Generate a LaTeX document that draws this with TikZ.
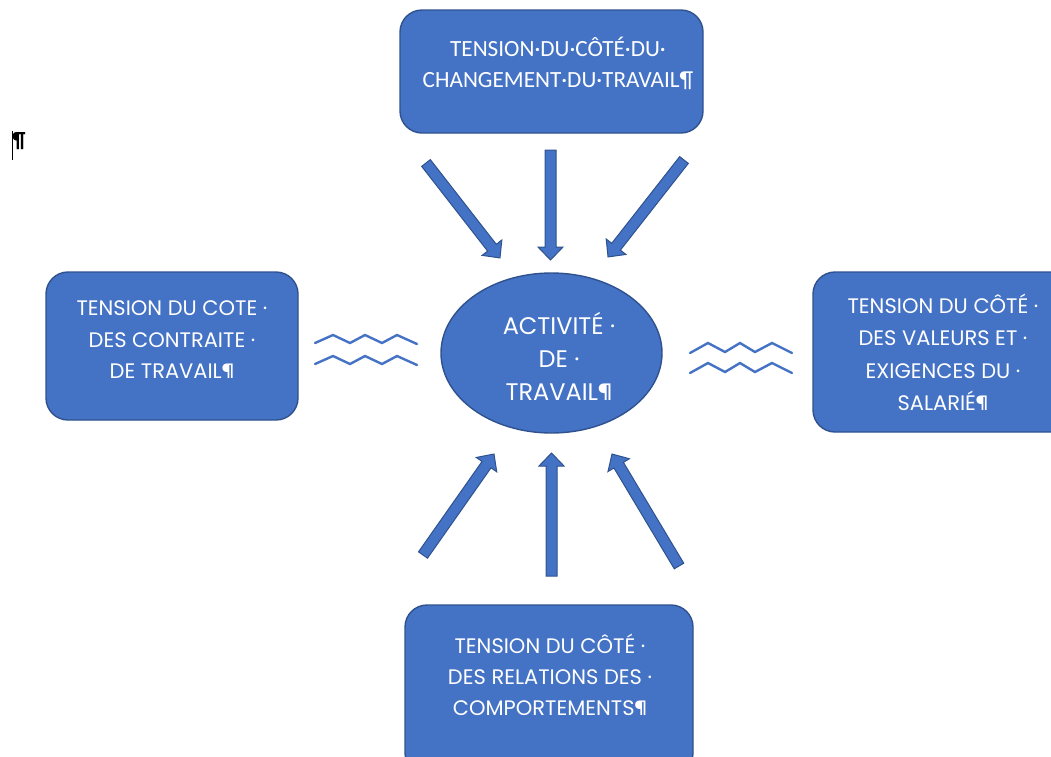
\documentclass[tikz,border=0pt]{standalone}
\usepackage{fontspec}
\setmainfont{Poppins}
\newfontfamily\calib{Carlito}
\definecolor{accent}{HTML}{4472C4}
\definecolor{accentdark}{HTML}{2F528F}
\tikzset{
  box/.style={draw=accentdark, fill=accent, line width=1.4pt, rounded corners=22pt, inner sep=0pt},
  oval/.style={ellipse, draw=accentdark, fill=accent, line width=1.4pt, inner sep=0pt},
  txt/.style={text=white, align=center, inner sep=0pt},
  blk/.style={draw=accentdark, fill=accent, line width=1pt, line join=miter},
  wave/.style={draw=accent, line width=2.4pt, line join=miter, line cap=round}
}
\usetikzlibrary{shapes.geometric}
\newcommand\blockarrow[4]{%
  \pgfmathsetmacro\barang{atan2(-(#4)+(#2),(#3)-(#1))}%
  \pgfmathsetmacro\barlen{veclen((#3)-(#1),(#4)-(#2))}%
  \draw[blk,shift={(#1,-#2)},rotate=\barang]
    (0,-5.5) -- (\barlen-13,-5.5) -- (\barlen-13,-12.5) -- (\barlen,0)
    -- (\barlen-13,12.5) -- (\barlen-13,5.5) -- (0,5.5) -- cycle;}
\begin{document}
\begin{tikzpicture}[x=1pt,y=1pt]
\useasboundingbox (0,0) rectangle (1051,-756);
\clip (0,0) rectangle (1051,-756);
% boxes
\node[box, minimum width=303pt, minimum height=123pt] (top) at (551.5,-71.5) {};
\node[box, minimum width=252pt, minimum height=148pt] (left) at (172,-346) {};
\node[box, minimum width=260pt, minimum height=160pt] (right) at (943,-352) {};
\node[box, minimum width=288pt, minimum height=170pt] (bottom) at (549,-690) {};
\node[oval, minimum width=221pt, minimum height=160pt] (center) at (551.5,-353) {};
% texts
\node[txt, font=\calib\fontsize{23.2}{31}\selectfont] (toptxt) at (558,-63)
  {TENSION·DU·CÔTÉ·DU·\\CHANGEMENT·DU·TRAVAIL¶};
\node[txt, font=\fontsize{21}{31.5}\selectfont] (lefttxt) at (172,-340)
  {TENSION DU COTE ·\\DES CONTRAITE ·\\DE TRAVAIL¶};
\node[txt, font=\fontsize{21}{32.5}\selectfont] (righttxt) at (943,-352.5)
  {TENSION DU CÔTÉ ·\\DES VALEURS ET ·\\EXIGENCES DU ·\\SALARIÉ¶};
\node[txt, font=\fontsize{21}{31}\selectfont] (bottomtxt) at (550,-675)
  {TENSION DU CÔTÉ ·\\DES RELATIONS DES ·\\COMPORTEMENTS¶};
\node[txt, font=\fontsize{24}{33}\selectfont] (centertxt) at (559,-356)
  {ACTIVITÉ ·\\DE ·\\TRAVAIL¶};
% block arrows
\blockarrow{426}{163}{500}{258}
\blockarrow{550.5}{150}{550.5}{260}
\blockarrow{684}{160}{608}{257}
\blockarrow{423}{555}{494}{454}
\blockarrow{551.5}{576}{551.5}{453}
\blockarrow{679}{566}{612}{454}
% waves
\draw[wave] (315,-343) -- (333,-335) -- (350,-343) -- (365,-335) -- (382,-343) -- (397,-335) -- (417,-344);
\draw[wave] (315,-364) -- (333,-356) -- (350,-364) -- (365,-356) -- (382,-364) -- (397,-356) -- (417,-365);
\draw[wave] (690,-353) -- (708,-343) -- (725,-352) -- (740,-343) -- (755,-352) -- (772,-343) -- (792,-353);
\draw[wave] (690,-373) -- (708,-363) -- (725,-372) -- (740,-363) -- (755,-372) -- (772,-363) -- (792,-373);
% paragraph mark with cursor
\coordinate (cura) at (12.5,-131);
\coordinate (curb) at (12.5,-160);
\draw[line width=1pt] (cura) -- (curb);
\node[inner sep=0pt, font=\calib\bfseries\fontsize{22}{22}\selectfont] (pilcrow) at (19,-141) {¶};
\end{tikzpicture}
\end{document}
